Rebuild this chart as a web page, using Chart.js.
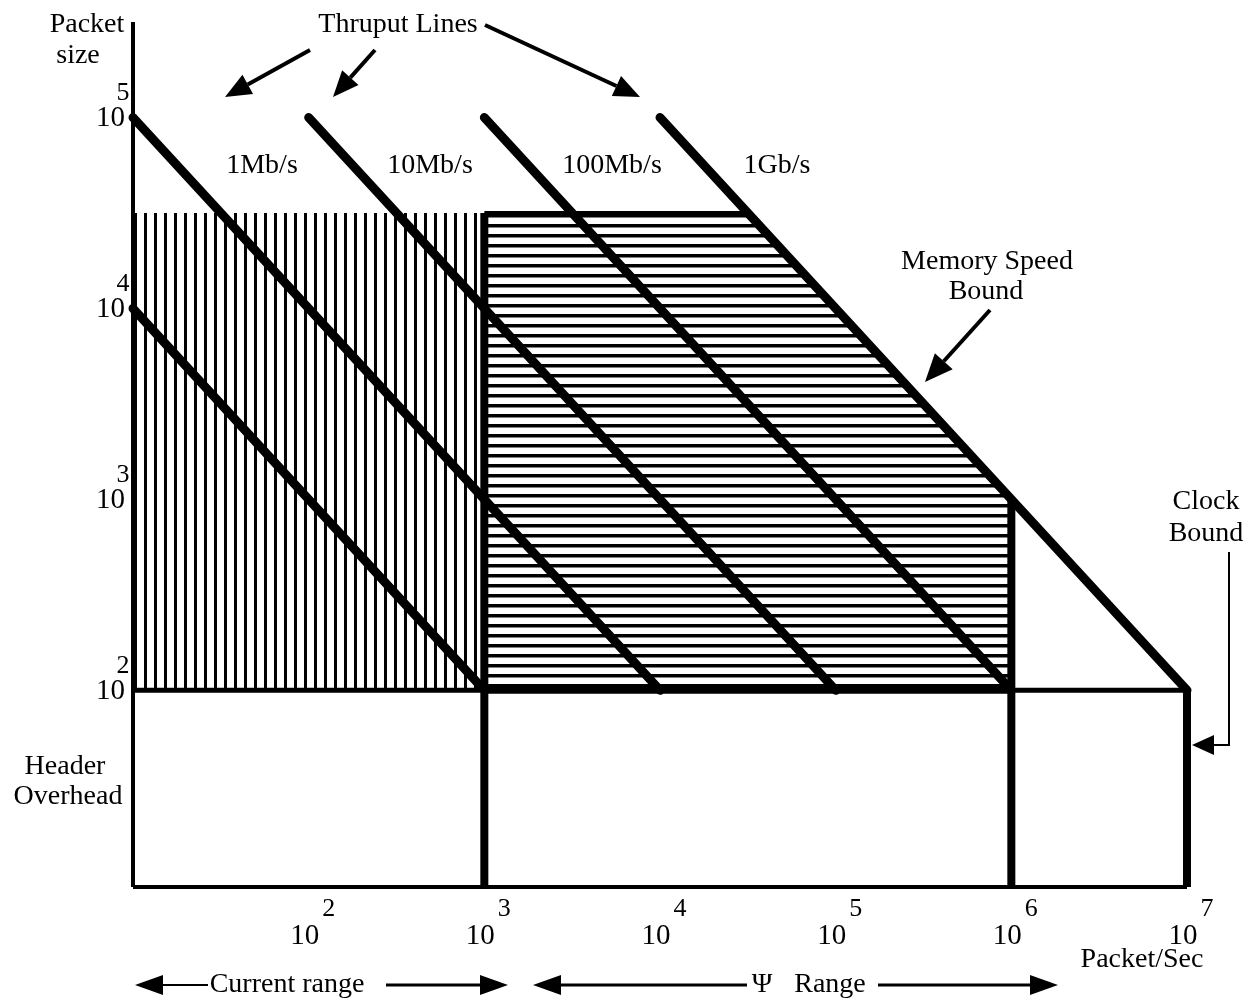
<!DOCTYPE html>
<html>
<head>
<meta charset="utf-8">
<script src="https://cdn.jsdelivr.net/npm/chart.js@4.4.1/dist/chart.umd.min.js"></script>
<style>
  body { margin: 0; background: #fff; }
  canvas { display: block; }
</style>
</head>
<body>
<canvas id="plot" width="1254" height="1000"></canvas>
<script>
// packet/sec on x, packet size on y, both log scales
const X_TICK_EXP = [2, 3, 4, 5, 6, 7];
const Y_TICK_EXP = [2, 3, 4, 5];
const X_MIN = 10, X_MAX = 1e7;
const Y_MIN = Math.pow(10, 0.97), Y_MAX = Math.pow(10, 5.5);

// thruput lines: size * rate = const
const THRU_START_X = [10, 10, 1e2, 1e3, 1e4];
const THRU_START_Y = [1e4, 1e5, 1e5, 1e5, 1e5];
const THRU_END_X = [1e3, 1e4, 1e5, 1e6, 1e7];
const THRU_END_Y = [1e2, 1e2, 1e2, 1e2, 1e2];
const RATE_LABELS = ['1Mb/s', '10Mb/s', '100Mb/s', '1Gb/s'];

const HEADER_SIZE = 100;
const MAX_SIZE = Math.pow(10, 4.5);
const CURRENT_X = [10, 1e3];
const PSI_X = [1e3, Math.pow(10, 4.5), 1e6];
const PSI_Y = [MAX_SIZE, MAX_SIZE, 1e3];
const CLOCK_X = 1e7;

function hatch(vertical) {
  const c = document.createElement('canvas');
  c.width = 10; c.height = 10;
  const g = c.getContext('2d');
  g.fillStyle = '#000';
  if (vertical) g.fillRect(4, 0, 3, 10);
  else g.fillRect(0, 4, 10, 3.5);
  return g.createPattern(c, 'repeat');
}

function seg(x1, y1, x2, y2, w, extra) {
  return Object.assign({
    data: [{x: x1, y: y1}, {x: x2, y: y2}],
    showLine: true, borderColor: '#000', borderWidth: w,
    pointRadius: 0, fill: false, clip: false, order: 0
  }, extra || {});
}

const datasets = [];
// hatched regions
datasets.push({
  data: CURRENT_X.map(x => ({x: x, y: MAX_SIZE})),
  showLine: true, borderWidth: 0, borderColor: 'rgba(0,0,0,0)', pointRadius: 0,
  backgroundColor: hatch(true), fill: {value: HEADER_SIZE}, order: 10
});
datasets.push({
  data: PSI_X.map((x, i) => ({x: x, y: PSI_Y[i]})),
  showLine: true, borderWidth: 0, borderColor: 'rgba(0,0,0,0)', pointRadius: 0,
  backgroundColor: hatch(false), fill: {value: HEADER_SIZE}, order: 10
});
// frame
datasets.push(seg(X_MIN, Y_MIN, X_MIN, Y_MAX, 4));
datasets.push(seg(X_MIN, Y_MIN, X_MAX, Y_MIN, 4));
datasets.push(seg(X_MIN, HEADER_SIZE, X_MAX, HEADER_SIZE, 5));
datasets.push(seg(CURRENT_X[1], HEADER_SIZE, PSI_X[2], HEADER_SIZE, 7));
datasets.push(seg(PSI_X[0], MAX_SIZE, PSI_X[1], MAX_SIZE, 4));
datasets.push(seg(CURRENT_X[1], Y_MIN, CURRENT_X[1], MAX_SIZE, 8));
datasets.push(seg(PSI_X[2], Y_MIN, PSI_X[2], PSI_Y[2], 8));
datasets.push(seg(CLOCK_X, Y_MIN, CLOCK_X, HEADER_SIZE, 8));
// thruput lines
for (let i = 0; i < THRU_START_X.length; i++) {
  datasets.push(seg(THRU_START_X[i], THRU_START_Y[i], THRU_END_X[i], THRU_END_Y[i], 9,
    {borderCapStyle: 'round'}));
}

function arrow(ctx, x1, y1, x2, y2, w, hl, hw) {
  const a = Math.atan2(y2 - y1, x2 - x1);
  const bx = x2 - hl * Math.cos(a), by = y2 - hl * Math.sin(a);
  ctx.lineWidth = w;
  ctx.beginPath(); ctx.moveTo(x1, y1); ctx.lineTo(bx, by); ctx.stroke();
  ctx.beginPath();
  ctx.moveTo(x2, y2);
  ctx.lineTo(bx + hw * Math.sin(a), by - hw * Math.cos(a));
  ctx.lineTo(bx - hw * Math.sin(a), by + hw * Math.cos(a));
  ctx.closePath(); ctx.fill();
}

const FONT = '"Liberation Serif", "DejaVu Serif", serif';

const labels = {
  id: 'labels',
  afterDraw(chart) {
    const ctx = chart.ctx;
    const sx = chart.scales.x, sy = chart.scales.y;
    ctx.save();
    ctx.fillStyle = '#000'; ctx.strokeStyle = '#000';
    ctx.textBaseline = 'middle'; ctx.textAlign = 'center';

    // tick labels
    X_TICK_EXP.forEach(e => {
      const px = sx.getPixelForValue(Math.pow(10, e));
      ctx.font = '29px ' + FONT;
      ctx.fillText('10', px - 4, 936);
      ctx.font = '26px ' + FONT;
      ctx.fillText(String(e), px + 20, 909);
    });
    Y_TICK_EXP.forEach(e => {
      const py = sy.getPixelForValue(Math.pow(10, e));
      ctx.font = '29px ' + FONT;
      ctx.textAlign = 'right';
      ctx.fillText('10', 125, py + 1);
      ctx.font = '26px ' + FONT;
      ctx.textAlign = 'center';
      ctx.fillText(String(e), 123, py - 24);
    });

    ctx.font = '28px ' + FONT;
    ctx.fillText('Packet', 87, 25);
    ctx.fillText('size', 78, 56);
    ctx.fillText('Thruput Lines', 398, 25);
    const rateX = [262, 430, 612, 777];
    RATE_LABELS.forEach((t, i) => ctx.fillText(t, rateX[i], 166));
    ctx.fillText('Memory Speed', 987, 262);
    ctx.fillText('Bound', 986, 292);
    ctx.fillText('Clock', 1206, 502);
    ctx.fillText('Bound', 1206, 534);
    ctx.fillText('Header', 65, 767);
    ctx.fillText('Overhead', 68, 797);
    ctx.fillText('Packet/Sec', 1142, 960);
    ctx.fillText('Current range', 287, 985);
    ctx.fillText('\u03A8', 762, 985);
    ctx.fillText('Range', 830, 985);

    // arrows
    arrow(ctx, 310, 50, 225, 97, 4, 26, 11);
    arrow(ctx, 375, 50, 333, 97, 4, 26, 11);
    arrow(ctx, 485, 25, 640, 97, 4, 26, 11);
    arrow(ctx, 990, 310, 925, 382, 4, 28, 12);
    arrow(ctx, 208, 985, 135, 985, 2, 28, 10);
    arrow(ctx, 386, 985, 508, 985, 3, 28, 10);
    arrow(ctx, 747, 985, 533, 985, 3, 28, 10);
    arrow(ctx, 878, 985, 1058, 985, 3, 28, 10);
    ctx.lineWidth = 2;
    ctx.beginPath(); ctx.moveTo(1229, 552); ctx.lineTo(1229, 745); ctx.lineTo(1212, 745); ctx.stroke();
    arrow(ctx, 1214, 745, 1192, 745, 2, 22, 10);
    ctx.restore();
  }
};

new Chart(document.getElementById('plot'), {
  type: 'scatter',
  data: { datasets: datasets },
  options: {
    responsive: false,
    animation: false,
    layout: { padding: { left: 133, right: 67, top: 22, bottom: 113 } },
    plugins: { legend: { display: false }, tooltip: { enabled: false } },
    scales: {
      x: { type: 'logarithmic', min: X_MIN, max: X_MAX, display: false },
      y: { type: 'logarithmic', min: Y_MIN, max: Y_MAX, display: false }
    }
  },
  plugins: [labels]
});
</script>
</body>
</html>
